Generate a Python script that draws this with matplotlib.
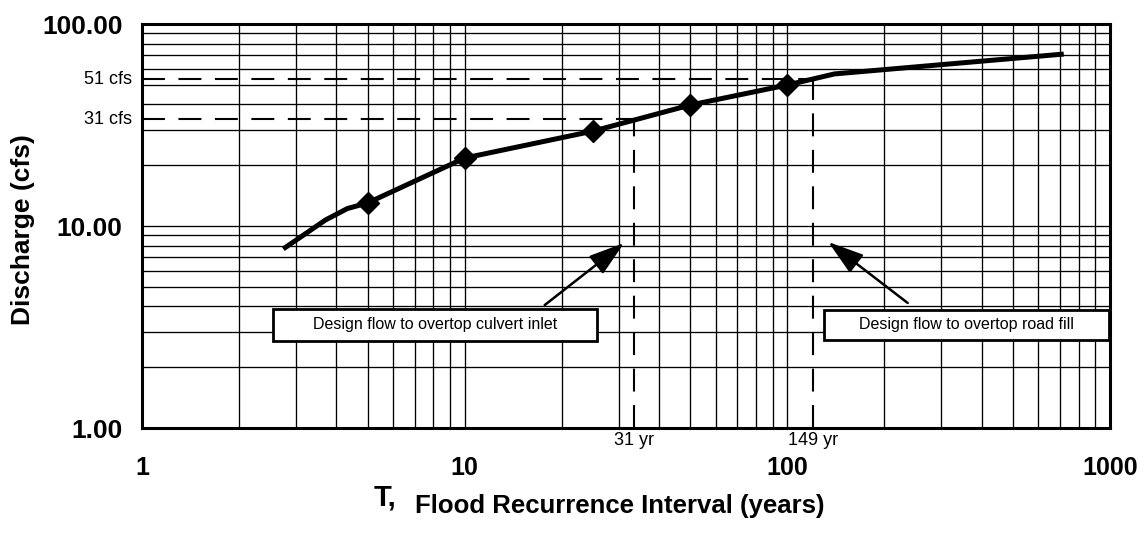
import numpy as np
import matplotlib
matplotlib.use("Agg")
import matplotlib.pyplot as plt
from matplotlib.patches import Rectangle
from matplotlib.ticker import FixedLocator, NullFormatter
import matplotlib.transforms as mtransforms

plt.rcParams['font.family'] = ['Liberation Sans', 'DejaVu Sans']

# frequency curve
curve_T = [2.74, 3.16, 3.7, 4.33, 5, 10, 25, 50, 100, 140, 719]
curve_Q = [7.7, 9.0, 10.7, 12.2, 13.0, 21.7, 29.5, 39.7, 49.9, 56.6, 71.0]

# plotted data points
pts_T = [5, 10, 25, 50, 100]
pts_Q = [13.0, 21.7, 29.5, 39.7, 49.9]

# design flows
design_T = [33.4, 120.5]
design_Q = [33.8, 53.4]
design_T_labels = ['31 yr', '149 yr']
design_Q_labels = ['31 cfs', '51 cfs']

# annotation boxes: (T left, T right), (Q bottom, Q top), arrow tail, arrow tip
box_texts = ['Design flow to overtop culvert inlet', 'Design flow to overtop road fill']
box_T = [(2.55, 25.7), (130.3, 993)]
box_Q = [(2.70, 3.88), (2.72, 3.85)]
arrow_tail = [(17.7, 4.06), (236, 4.16)]
arrow_tip = [(31.2, 8.24), (134, 8.33)]

fig = plt.figure(figsize=(11.46, 5.36), dpi=100)
ax = fig.add_axes([142 / 1146, 1 - 428 / 536, 968 / 1146, 404 / 536])
ax.set_xscale('log')
ax.set_yscale('log')
ax.set_xlim(1, 1000)
ax.set_ylim(1, 100)

minors = [k * 10.0 ** e for e in range(0, 3) for k in range(2, 10)]
ax.xaxis.set_major_locator(FixedLocator([1, 10, 100, 1000]))
ax.xaxis.set_minor_locator(FixedLocator(minors))
ax.yaxis.set_major_locator(FixedLocator([1, 10, 100]))
ax.yaxis.set_minor_locator(FixedLocator(minors[:16]))
ax.xaxis.set_minor_formatter(NullFormatter())
ax.yaxis.set_minor_formatter(NullFormatter())
ax.set_xticklabels(['1', '10', '100', '1000'], fontsize=18, fontweight='bold')
ax.set_yticklabels(['1.00', '10.00', '100.00'], fontsize=19, fontweight='bold')
ax.tick_params(axis='both', which='both', length=0)
ax.tick_params(axis='x', pad=20.5)
ax.tick_params(axis='y', pad=14)

ax.grid(True, which='both', color='black', linewidth=0.95)
ax.set_axisbelow(True)
for s in ax.spines.values():
    s.set_linewidth(2.2)
    s.set_zorder(10)

dash = (11, 6.5)
for t, q in zip(design_T, design_Q):
    ax.plot([1, t], [q, q], color='black', lw=1.5, dashes=dash, zorder=3)
    ax.plot([t, t], [1, q], color='black', lw=1.5, dashes=dash, zorder=3)

ax.plot(curve_T, curve_Q, color='black', lw=3.6, zorder=4,
        solid_capstyle='butt', solid_joinstyle='round')
ax.plot(pts_T, pts_Q, linestyle='none', marker='D', markersize=11,
        color='black', zorder=5)

ytrans = mtransforms.blended_transform_factory(ax.transAxes, ax.transData)
for q, lab in zip(design_Q, design_Q_labels):
    ax.text(-0.01, q, lab, transform=ytrans, ha='right', va='center', fontsize=13)
xtrans = mtransforms.blended_transform_factory(ax.transData, ax.transAxes)
for t, lab in zip(design_T, design_T_labels):
    ax.text(t, -0.03, lab, transform=xtrans, ha='center', va='center', fontsize=13)

for txt, (x0, x1), (y0, y1) in zip(box_texts, box_T, box_Q):
    ax.add_patch(Rectangle((x0, y0), x1 - x0, y1 - y0, facecolor='white',
                           edgecolor='black', lw=2, zorder=6))
    ax.text(np.sqrt(x0 * x1), np.sqrt(y0 * y1), txt, ha='center', va='center',
            fontsize=11.5, zorder=7)

for tail, tip in zip(arrow_tail, arrow_tip):
    ax.annotate('', xy=tip, xytext=tail,
                arrowprops=dict(arrowstyle='-|>,head_length=1.1,head_width=0.35',
                                mutation_scale=20, color='black', lw=1.8,
                                shrinkA=0, shrinkB=0), zorder=7)

ax.set_ylabel('Discharge (cfs)', fontsize=19, fontweight='bold')
ax.yaxis.set_label_coords(-0.1105, 0.49)
ax.set_xlabel('Flood Recurrence Interval (years)', fontsize=18.5, fontweight='bold')
ax.xaxis.set_label_coords(0.494, -0.163)
ax.text(0.251, -0.171, 'T,', transform=ax.transAxes, ha='center', va='center',
        fontsize=21, fontweight='bold')

fig.savefig('out.png', dpi=100)
